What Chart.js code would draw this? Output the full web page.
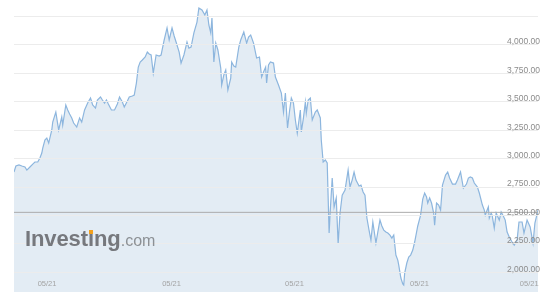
<!DOCTYPE html>
<html>
<head>
<meta charset="utf-8">
<script src="https://cdn.jsdelivr.net/npm/chart.js@4"></script>
<style>
  html, body { margin: 0; padding: 0; background: #fff; }
  #wrap { position: relative; width: 558px; height: 298px; overflow: hidden; }
  #chart { display: block; }
  .wm { position: absolute; left: 25px; top: 228px; line-height: 22px; white-space: nowrap; font-family: "Liberation Sans", Arial, sans-serif; }
  .wm .inv { font-size: 22px; font-weight: bold; color: rgba(105, 108, 112, 0.9); letter-spacing: -0.1px; }
  .wm .com { font-size: 16px; color: rgba(125, 128, 132, 0.85); }
  .wm .dot { position: relative; }
  .wm .tittle { position: absolute; left: 1.5px; top: 4px; width: 3.4px; height: 3.6px; background: #f4a11c; }
</style>
</head>
<body>
<div id="wrap">
  <canvas id="chart" width="558" height="298"></canvas>
  <div class="wm"><span class="inv">Invest<span class="dot">i<span class="tittle"></span></span>ng</span><span class="com">.com</span></div>
</div>
<script>
// weekly closes (x = week from start of the range)
const weeks = [
  0, 0.8, 2.1, 3.3, 4.6, 5.4, 6.7, 7.9, 8.8, 10.0, 10.9, 11.7, 12.1, 13.0, 13.8, 14.6, 15.9, 16.3, 17.6, 18.4,
  18.8, 20.1, 20.5, 21.8, 22.6, 23.4, 24.3, 25.1, 26.4, 27.6, 28.5, 29.7, 31.0, 32.2, 33.1, 34.3, 35.1, 36.4, 37.2, 38.1,
  38.9, 39.7, 41.0, 42.3, 43.5, 44.4, 45.6, 46.4, 47.7, 48.5, 49.8, 50.6, 51.5, 52.3, 53.1, 54.0, 55.2, 56.1, 56.9, 57.7,
  58.6, 59.8, 61.1, 61.9, 63.2, 64.4, 65.3, 66.5, 67.4, 68.2, 69.5, 70.3, 71.5, 72.8, 73.6, 74.5, 75.7, 77.0, 77.8, 79.1,
  80.3, 81.2, 82.0, 82.8, 83.3, 84.1, 84.9, 85.8, 87.0, 87.4, 88.3, 89.1, 90.0, 91.2, 91.6, 92.5, 93.3, 94.6, 95.4, 96.7,
  97.9, 98.7, 99.6, 100.8, 102.1, 103.3, 104.2, 105.0, 105.9, 106.3, 107.1, 107.9, 109.2, 110.0, 111.3, 112.5, 113.4, 114.2, 115.1, 115.9,
  116.7, 117.6, 118.4, 119.2, 120.5, 120.9, 121.8, 122.6, 123.0, 123.8, 124.7, 125.5, 126.8, 127.6, 128.9, 129.3, 130.1, 131.0, 131.8, 132.6,
  133.1, 133.9, 134.7, 135.6, 136.4, 137.2, 138.1, 139.3, 140.6, 141.4, 142.3, 143.1, 143.9, 145.2, 146.0, 146.9, 147.7, 148.5, 149.4, 150.2,
  151.0, 152.3, 153.1, 154.0, 154.8, 155.6, 156.5, 157.3, 158.2, 159.0, 159.8, 160.7, 161.5, 161.9, 162.8, 163.6, 164.0, 164.4, 165.3, 166.1,
  166.9, 167.8, 168.6, 169.9, 171.1, 172.0, 172.8, 173.6, 174.1, 174.9, 175.7, 176.6, 177.0, 177.8, 178.7, 179.5, 180.3, 181.6, 182.5, 183.3,
  184.5, 185.8, 186.6, 187.9, 189.1, 190.4, 191.2, 192.0, 192.9, 193.7, 195.0, 195.8, 197.1, 197.9, 198.3, 199.6, 200.0, 200.8, 201.2, 202.1,
  202.9, 204.2, 205.0, 205.9, 206.7, 207.5, 208.4, 209.6, 210.5, 211.7, 212.5, 213.8, 214.6, 215.9, 217.2, 218.4, 219.2, 220.5
];
const closes = [
  2882, 2935, 2944, 2935, 2926, 2899, 2926, 2952, 2970, 2970, 3005, 3049, 3093, 3164, 3181, 3137, 3252, 3322, 3410, 3304,
  3252, 3366, 3296, 3472, 3428, 3393, 3358, 3313, 3278, 3358, 3322, 3428, 3489, 3533, 3472, 3445, 3516, 3542, 3516, 3489,
  3516, 3481, 3428, 3428, 3481, 3542, 3498, 3454, 3507, 3542, 3551, 3560, 3665, 3806, 3850, 3868, 3894, 3938, 3921, 3912,
  3753, 3912, 3903, 3912, 4044, 4150, 4044, 4150, 4079, 4026, 3938, 3841, 3912, 4026, 3973, 3982, 4106, 4202, 4326, 4308,
  4264, 4308, 4176, 4106, 4238, 3850, 4017, 3956, 3797, 3648, 3736, 3780, 3604, 3709, 3850, 3815, 3806, 3982, 4044, 4114,
  4017, 4070, 4088, 4017, 3885, 3894, 3718, 3762, 3806, 3665, 3824, 3850, 3841, 3718, 3648, 3577, 3410, 3577, 3269, 3410,
  3533, 3489, 3340, 3225, 3428, 3234, 3358, 3498, 3401, 3516, 3533, 3340, 3410, 3428, 3358, 3164, 2970, 2988, 2961, 2345,
  2547, 2829, 2574, 2653, 2248, 2521, 2679, 2723, 2899, 2750, 2811, 2882, 2811, 2759, 2767, 2706, 2679, 2477, 2371, 2283,
  2442, 2257, 2354, 2459, 2407, 2371, 2354, 2345, 2327, 2301, 2327, 2151, 2107, 2063, 1949, 1896, 1887, 1993, 2081, 2134,
  2151, 2195, 2266, 2407, 2503, 2644, 2697, 2662, 2609, 2653, 2609, 2521, 2415, 2609, 2591, 2547, 2767, 2855, 2882, 2829,
  2776, 2776, 2811, 2882, 2741, 2776, 2829, 2838, 2829, 2785, 2750, 2697, 2591, 2547, 2503, 2574, 2477, 2521, 2503, 2389,
  2521, 2459, 2530, 2495, 2459, 2354, 2310, 2266, 2239, 2283, 2442, 2442, 2345, 2459, 2398, 2257, 2433, 2547
];
const lastPrice = 2527;

// axis ticks
const yTickValues = [2000, 2250, 2500, 2750, 3000, 3250, 3500, 3750, 4000, 4250];
const yTickLabels = ['2,000.00', '2,250.00', '2,500.00', '2,750.00', '3,000.00', '3,250.00', '3,500.00', '3,750.00', '4,000.00', ''];
const xTickWeeks = [13.9, 66.3, 118, 170.6, 216.8];
const xTickLabels = ['05/21', '05/21', '05/21', '05/21', '05/21'];

const xMin = 0, xMax = 220.5;
const yMin = 1826, yMax = 4396;

const points = weeks.map((w, i) => ({ x: w, y: closes[i] }));

// no extra room for edge labels, the plot runs to the canvas edges
const noEdgePadding = (scale) => {
  scale.paddingTop = 0;
  scale.paddingBottom = 0;
  scale.paddingLeft = 0;
  scale.paddingRight = 0;
};

const ctx = document.getElementById('chart').getContext('2d');
new Chart(ctx, {
  type: 'line',
  data: {
    datasets: [
      {
        data: points,
        borderColor: '#8db6de',
        backgroundColor: '#e3ecf4',
        borderWidth: 1.2,
        pointRadius: 0,
        tension: 0,
        fill: 'start',
        order: 1
      },
      {
        // current price line
        data: [{ x: xMin, y: lastPrice }, { x: xMax, y: lastPrice }],
        borderColor: '#acacac',
        borderWidth: 1,
        pointRadius: 0,
        fill: false,
        order: 0
      }
    ]
  },
  options: {
    responsive: false,
    animation: false,
    layout: { padding: { left: 14, right: 16, top: 0, bottom: 6 } },
    plugins: { legend: { display: false }, tooltip: { enabled: false } },
    scales: {
      x: {
        type: 'linear',
        min: xMin,
        max: xMax,
        afterBuildTicks: (scale) => { scale.ticks = xTickWeeks.map(v => ({ value: v })); },
        afterFit: (scale) => { noEdgePadding(scale); scale.height = 0; },
        grid: { display: false, drawTicks: false },
        border: { display: false },
        ticks: {
          z: 2,
          autoSkip: false,
          maxRotation: 0,
          mirror: true,
          padding: 4,
          color: '#a3a3a3',
          font: { family: 'Liberation Sans, Arial, sans-serif', size: 7.5 },
          callback: (v, i) => xTickLabels[i]
        }
      },
      y: {
        position: 'right',
        min: yMin,
        max: yMax,
        afterBuildTicks: (scale) => { scale.ticks = yTickValues.map(v => ({ value: v })); },
        afterFit: (scale) => { noEdgePadding(scale); },
        grid: { z: 1, color: '#ececec', lineWidth: 1, drawTicks: false },
        border: { display: false },
        ticks: {
          z: 2,
          mirror: true,
          padding: 2,
          labelOffset: -3,
          color: '#8c8c8c',
          font: { family: 'Liberation Sans, Arial, sans-serif', size: 8.5 },
          callback: (v, i) => yTickLabels[i]
        }
      }
    }
  }
});
</script>
</body>
</html>
